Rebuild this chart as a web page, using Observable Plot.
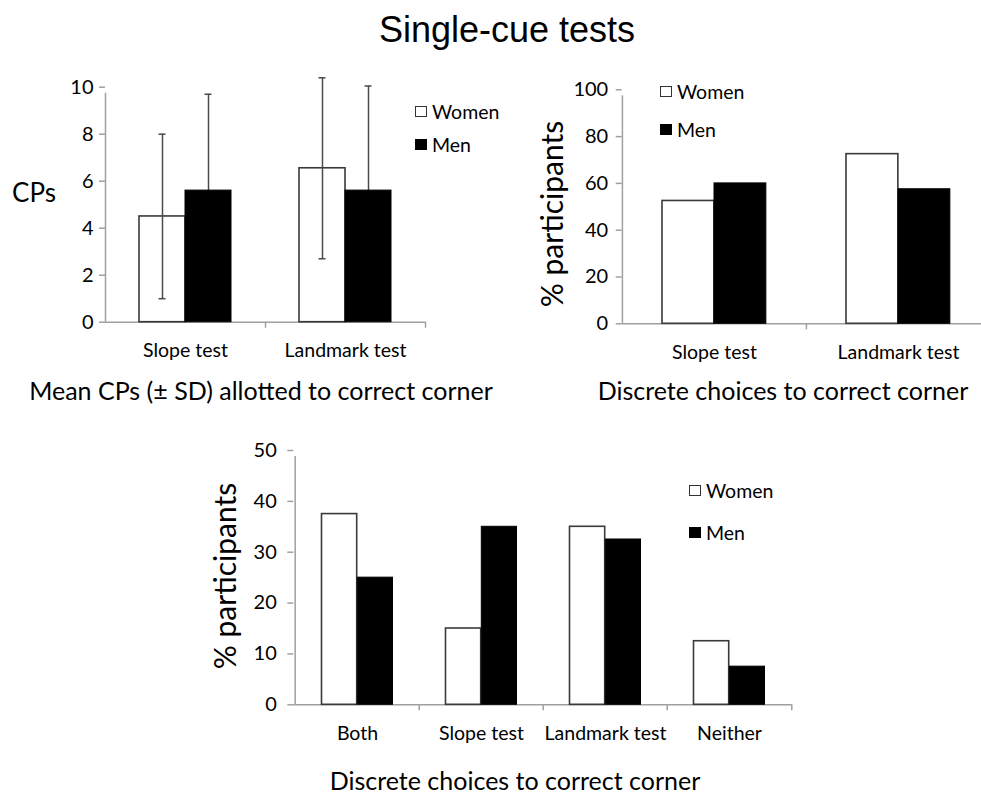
<!DOCTYPE html>
<html>
<head>
<meta charset="utf-8">
<script src="https://cdn.jsdelivr.net/npm/d3@7"></script>
<script src="https://cdn.jsdelivr.net/npm/@observablehq/plot@0.6"></script>
<style>
  html, body { margin: 0; padding: 0; background: #fff; overflow: hidden; }
  #root { position: relative; width: 981px; height: 793px; overflow: hidden; font-family: Lato, "Open Sans", sans-serif; color: #000; }
  .abs { position: absolute; white-space: nowrap; line-height: 1; }
  .c { transform: translate(-50%, -50%); }
  .rot { transform: translate(-50%, -50%) rotate(-90deg); }
  .leg { position: absolute; display: flex; align-items: center; height: 24px; font-size: 19.5px; }
  .sw { width: 12px; height: 11px; box-sizing: border-box; margin-right: 5px; }
  .sw.w { background: #fff; border: 1.5px solid #333; }
  .sw.m { background: #000; }
</style>
</head>
<body>
<div id="root"></div>
<script>
// ---------------- data ----------------
const genders = ["Women", "Men"];

// Panel A: mean CPs (± SD) allotted to correct corner
const cpTests = ["Slope test", "Landmark test"];
const cpMeanWomen = [4.5, 6.55];
const cpMeanMen = [5.6, 5.6];
const cpSdWomen = [3.5, 3.85];
const cpSdMen = [4.1, 4.45];
const cpTicks = [0, 2, 4, 6, 8, 10];

// Panel B: discrete choices to correct corner (% participants)
const choiceTests = ["Slope test", "Landmark test"];
const choiceWomen = [52.5, 72.5];
const choiceMen = [60, 57.5];
const choiceTicks = [0, 20, 40, 60, 80, 100];

// Panel C: discrete choices to correct corner, by cue combination
const comboCats = ["Both", "Slope test", "Landmark test", "Neither"];
const comboWomen = [37.5, 15, 35, 12.5];
const comboMen = [25, 35, 32.5, 7.5];
const comboTicks = [0, 10, 20, 30, 40, 50];

// ---------------- drawing ----------------
const root = document.getElementById("root");
const AXIS = "#a0a0a0";

function addDiv(cls, text, css) {
  const d = document.createElement("div");
  d.className = cls;
  d.textContent = text;
  Object.assign(d.style, css);
  root.appendChild(d);
  return d;
}

function legend(x, yW, yM) {
  const rows = [[genders[0], "w", yW], [genders[1], "m", yM]];
  for (const [label, k, cy] of rows) {
    const row = document.createElement("div");
    row.className = "leg";
    row.style.left = x + "px";
    row.style.top = (cy - 12) + "px";
    const sw = document.createElement("div");
    sw.className = "sw " + k;
    const t = document.createElement("span");
    t.textContent = label;
    row.appendChild(sw);
    row.appendChild(t);
    root.appendChild(row);
  }
}

function panel(o) {
  const rows = o.cats.map((c, i) => ({
    cat: c,
    women: o.women[i],
    men: o.men[i],
    sdW: o.sdW ? o.sdW[i] : null,
    sdM: o.sdM ? o.sdM[i] : null
  }));
  const band = (o.width - o.mL - o.mR) / o.cats.length;
  const inset = o.inset, bw = o.barW;
  const cW = inset + bw / 2;          // women bar centre within band
  const cM = inset + bw * 1.5;        // men bar centre within band
  const cap = 3.5;
  const last = o.cats[o.cats.length - 1];

  const marks = [
    // x axis line
    Plot.ruleY([o.yDomain[0]], {stroke: AXIS, strokeWidth: 1.5}),
    // y axis line (plus first boundary tick)
    Plot.ruleX([o.cats[0]], {x: d => d, y1: o.yDomain[0], y2: o.yDomain[1], dx: -band / 2, insetBottom: -6, stroke: AXIS, strokeWidth: 1.5}),
    // category boundary ticks
    Plot.ruleX(o.cats.slice(1), {x: d => d, y1: o.yDomain[0], y2: o.yDomain[0], dx: -band / 2, insetBottom: -6, stroke: AXIS, strokeWidth: 1.5}),
    Plot.ruleX([last], {x: d => d, y1: o.yDomain[0], y2: o.yDomain[0], dx: band / 2, insetBottom: -6, stroke: AXIS, strokeWidth: 1.5}),
    Plot.axisY({ticks: o.ticks, tickSize: 6, tickPadding: o.tickPad, stroke: AXIS, strokeWidth: 1.5, fill: "#000", fontSize: 20, label: null}),
    Plot.axisX({tickSize: 0, tickPadding: 21, fill: "#000", fontSize: 19.5, label: null}),
    // women bars
    Plot.barY(rows, {x: "cat", y: "women", fill: "#fff", stroke: "#3a3a3a", strokeWidth: 1.6,
      insetLeft: inset, insetRight: band - inset - bw})
  ];
  if (o.sdW) {
    const errs = [["women", "sdW", cW], ["men", "sdM", cM]];
    for (const [v, s, c] of errs) {
      marks.push(Plot.ruleX(rows, {x: "cat", y1: d => d[v] - d[s], y2: d => d[v] + d[s], dx: c - band / 2, stroke: "#4a4a4a", strokeWidth: 1.5}));
      marks.push(Plot.tickY(rows, {x: "cat", y: d => d[v] + d[s], insetLeft: c - cap, insetRight: band - c - cap, stroke: "#4a4a4a", strokeWidth: 1.5}));
      marks.push(Plot.tickY(rows, {x: "cat", y: d => d[v] - d[s], insetLeft: c - cap, insetRight: band - c - cap, stroke: "#4a4a4a", strokeWidth: 1.5}));
    }
  }
  marks.push(Plot.barY(rows, {x: "cat", y: "men", fill: "#000", stroke: "#000", strokeWidth: 1,
    insetLeft: inset + bw, insetRight: band - inset - 2 * bw}));

  const chart = Plot.plot({
    width: o.width,
    height: o.height,
    marginLeft: o.mL,
    marginRight: o.mR,
    marginTop: o.mT,
    marginBottom: o.mB,
    x: {domain: o.cats, padding: 0},
    y: {domain: o.yDomain},
    style: {fontFamily: "Lato, 'Open Sans', sans-serif", background: "transparent", color: "#000", overflow: "visible", maxWidth: "none"},
    marks
  });
  const wrap = document.createElement("div");
  wrap.style.position = "absolute";
  wrap.style.left = o.left + "px";
  wrap.style.top = o.top + "px";
  wrap.style.width = o.width + "px";
  wrap.style.height = o.height + "px";
  wrap.appendChild(chart);
  root.appendChild(wrap);
}

// title
addDiv("abs", "Single-cue tests", {left: "507px", top: "30px", transform: "translate(-50%, -50%)",
  fontFamily: "'Liberation Sans', Arial, sans-serif", fontSize: "36px"});

// Panel A
panel({cats: cpTests, women: cpMeanWomen, men: cpMeanMen, sdW: cpSdWomen, sdM: cpSdMen,
  yDomain: [0, 10], ticks: cpTicks, tickPad: 6,
  left: 0, top: 60, width: 500, height: 300, mL: 105, mR: 75, mT: 26.7, mB: 38.3, inset: 34, barW: 46});
addDiv("abs c", "CPs", {left: "34px", top: "192px", fontSize: "26px"});
addDiv("abs c", "Mean CPs (\u00B1 SD) allotted to correct corner", {left: "261px", top: "390px", fontSize: "25px"});
legend(415, 111.7, 144.7);

// Panel B
panel({cats: choiceTests, women: choiceWomen, men: choiceMen,
  yDomain: [0, 100], ticks: choiceTicks, tickPad: 8,
  left: 500, top: 60, width: 490, height: 300, mL: 121.7, mR: 0, mT: 29.3, mB: 36.7, inset: 40, barW: 52});
addDiv("abs rot", "% participants", {left: "551px", top: "214px", fontSize: "30px"});
addDiv("abs c", "Discrete choices to correct corner", {left: "783px", top: "390px", fontSize: "25px"});
legend(660, 91.7, 129.3);

// Panel C
panel({cats: comboCats, women: comboWomen, men: comboMen,
  yDomain: [0, 50], ticks: comboTicks, tickPad: 11,
  left: 180, top: 430, width: 620, height: 310, mL: 113.3, mR: 8.3, mT: 20, mB: 35.7, inset: 26.5, barW: 35.8});
addDiv("abs rot", "% participants", {left: "224px", top: "576px", fontSize: "30px"});
addDiv("abs c", "Discrete choices to correct corner", {left: "515px", top: "780px", fontSize: "25px"});
legend(689, 490.7, 532.3);
</script>
</body>
</html>
